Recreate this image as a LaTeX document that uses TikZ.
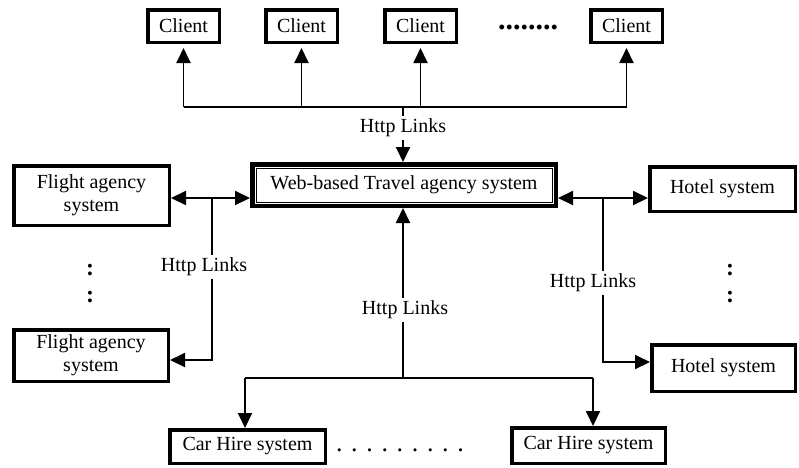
\documentclass[tikz,border=0pt]{standalone}
\usepackage{fontspec}
\setmainfont{Liberation Serif}
\usetikzlibrary{arrows.meta}
\begin{document}
\begin{tikzpicture}[x=1pt,y=-1pt,
  box/.style={draw,line width=3.5pt,inner sep=0pt,align=center,font=\fontsize{20}{23}\selectfont},
  lab/.style={fill=white,inner sep=3pt,font=\fontsize{20}{23}\selectfont},
  conn/.style={line width=1.9pt,-{Triangle[length=15pt,width=14pt]}},
  bconn/.style={line width=1.9pt,{Triangle[length=15pt,width=14pt]}-{Triangle[length=15pt,width=14pt]}},
  plain/.style={line width=1.9pt},
  colon/.style={font=\fontsize{24}{28}\selectfont\bfseries}]
\useasboundingbox (0,0) rectangle (799,467);
% clients
\node[box,minimum width=71.5pt,minimum height=32.5pt] (c1) at (183.5,26) {Client};
\node[box,minimum width=71.5pt,minimum height=32.5pt] (c2) at (301.5,26) {Client};
\node[box,minimum width=71.5pt,minimum height=32.5pt] (c3) at (420.5,26) {Client};
\node[box,minimum width=71.5pt,minimum height=32.5pt] (c4) at (626.5,26) {Client};
\node[font=\fontsize{30}{32}\selectfont\bfseries] (tdots) at (528,27) {........};
% main
\node[box,line width=4.5pt,minimum width=303.5pt,minimum height=41.5pt] (main) at (404,185) {Web-based Travel agency system};
\draw[line width=0.8pt] ([xshift=6pt,yshift=-6pt]main.north west) rectangle ([xshift=-6pt,yshift=6pt]main.south east);
% flights
\node[box,minimum width=155.5pt,minimum height=59.5pt] (f1) at (91.5,195.5) {Flight agency\\system};
\node[box,minimum width=154.5pt,minimum height=51.5pt] (f2) at (91,355.5) {Flight agency\\system};
% hotels
\node[box,minimum width=145.5pt,minimum height=44.5pt] (h1) at (722.5,189) {Hotel system};
\node[box,minimum width=143.5pt,minimum height=46.5pt] (h2) at (723.5,368) {Hotel system};
% car hire
\node[box,minimum width=155.5pt,minimum height=33.5pt] (car1) at (247.5,446.5) {Car Hire system};
\node[box,minimum width=153.5pt,minimum height=35.5pt] (car2) at (588.5,445.5) {Car Hire system};
% dots
\node[colon] (ld1) at (90,270) {:};
\node[colon] (ld2) at (90,297) {:};
\node[colon] (rd1) at (730,270) {:};
\node[colon] (rd2) at (730,297) {:};
\node[font=\fontsize{26}{30}\selectfont] (bdots) at (400,450) {. . . . . . . . .};
% top connectors
\coordinate (tb) at (403,107);
\draw[plain] (c1.south |- tb) -- (c4.south |- tb);
\foreach \c in {c1,c2,c3,c4} \draw[conn,shorten >=4pt] (\c.south |- tb) -- (\c.south);
\draw[conn] (tb) -- (tb |- main.north);
\node[lab] (tl) at (403,128) {Http Links};
% left connectors
\coordinate (lj) at (212,198);
\coordinate (lb) at (212,360);
\draw[bconn] (f1.east |- lj) -- (main.west |- lj);
\draw[conn] (lj) -- (lb) -- (f2.east |- lb);
\node[lab] (ll) at (204,267) {Http Links};
% right connectors
\coordinate (rj) at (603,198);
\coordinate (rb) at (603,362);
\draw[bconn] (main.east |- rj) -- (h1.west |- rj);
\draw[conn] (rj) -- (rb) -- (h2.west |- rb);
\node[lab] (rl) at (593,283) {Http Links};
% bottom connectors
\coordinate (bj) at (403,378);
\coordinate (bl) at (245,378);
\coordinate (br) at (593,378);
\draw[conn] (bj) -- (bj |- main.south);
\draw[plain] (bl) -- (br);
\draw[conn] (bl) -- (bl |- car1.north);
\draw[conn] (br) -- (br |- car2.north);
\node[lab] (bl2) at (405,310) {Http Links};
\end{tikzpicture}
\end{document}
